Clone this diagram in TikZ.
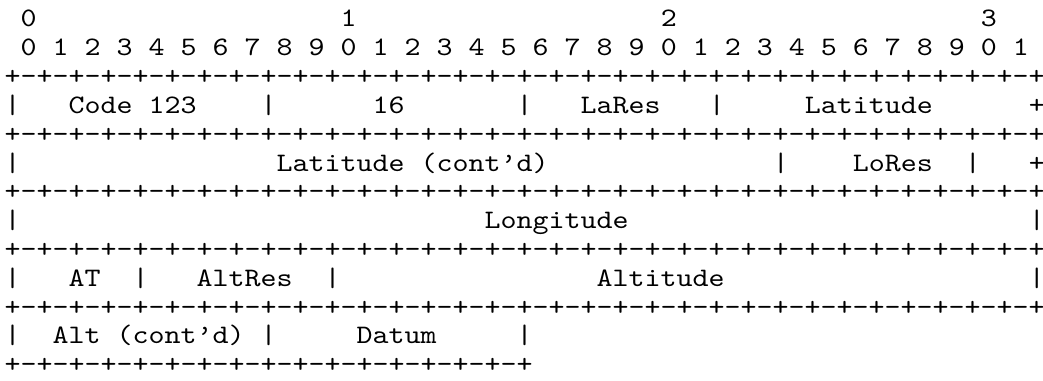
\documentclass[tikz,border=0pt]{standalone}
\usepackage{fontspec}
\newfontfamily\asciifont{lmmono10-regular.otf}[FakeStretch=1.143, WordSpace={1,0,0}]
\usetikzlibrary{positioning}

\tikzset{
    ascii/.style={
        anchor=base west, inner sep=0pt, outer sep=0pt,
        font=\asciifont\fontsize{13.33pt}{14.4pt}\selectfont,
        text=black,
    },
}
\newcommand{\fullrule}{+-+-+-+-+-+-+-+-+-+-+-+-+-+-+-+-+-+-+-+-+-+-+-+-+-+-+-+-+-+-+-+-+}
\newcommand{\halfrule}{+-+-+-+-+-+-+-+-+-+-+-+-+-+-+-+-+}

\begin{document}
\begin{tikzpicture}[x=8pt, y=-14.4pt]
        \useasboundingbox (-0.294,-0.9375) rectangle (64.89,12.29);

        % bit numbers
        \foreach \t/\c in {0/1, 1/21, 2/41, 3/61}
            \node (tens-\t) at(\c,0) [ascii] {\t};
        \foreach \b in {0,...,31} {
            \pgfmathtruncatemacro{\d}{mod(\b,10)}
            \pgfmathtruncatemacro{\c}{2*\b+1}
            \node (bit-\b) at(\c,1) [ascii] {\d};
        }

        % rules between the words
        \foreach \r in {2,4,6,8,10}
            \node (rule-\r) at(0,\r) [ascii] {\fullrule};
        \node (rule-12) at(0,12) [ascii] {\halfrule};

        % field separators
        \foreach \c/\r in {0/3, 16/3, 32/3, 44/3, 0/5, 48/5, 60/5, 0/7, 64/7,
                           0/9, 8/9, 20/9, 64/9, 0/11, 16/11, 32/11}
            \node (bar-\c-\r) at(\c,\r) [ascii] {|};
        \node (cont-3) at(64,3) [ascii] {+};
        \node (cont-5) at(64,5) [ascii] {+};

        % fields
        \node (code) at(4,3) [ascii] {Code 123};
        \node (len) at(23,3) [ascii] {16};
        \node (lares) at(36,3) [ascii] {LaRes};
        \node (lat) at(50,3) [ascii] {Latitude};
        \node (latcont) at(17,5) [ascii] {Latitude (cont’d)};
        \node (lores) at(53,5) [ascii] {LoRes};
        \node (lon) at(30,7) [ascii] {Longitude};
        \node (at) at(4,9) [ascii] {AT};
        \node (altres) at(12,9) [ascii] {AltRes};
        \node (alt) at(37,9) [ascii] {Altitude};
        \node (altcont) at(3,11) [ascii] {Alt (cont’d)};
        \node (datum) at(22,11) [ascii] {Datum};
\end{tikzpicture}
\end{document}
